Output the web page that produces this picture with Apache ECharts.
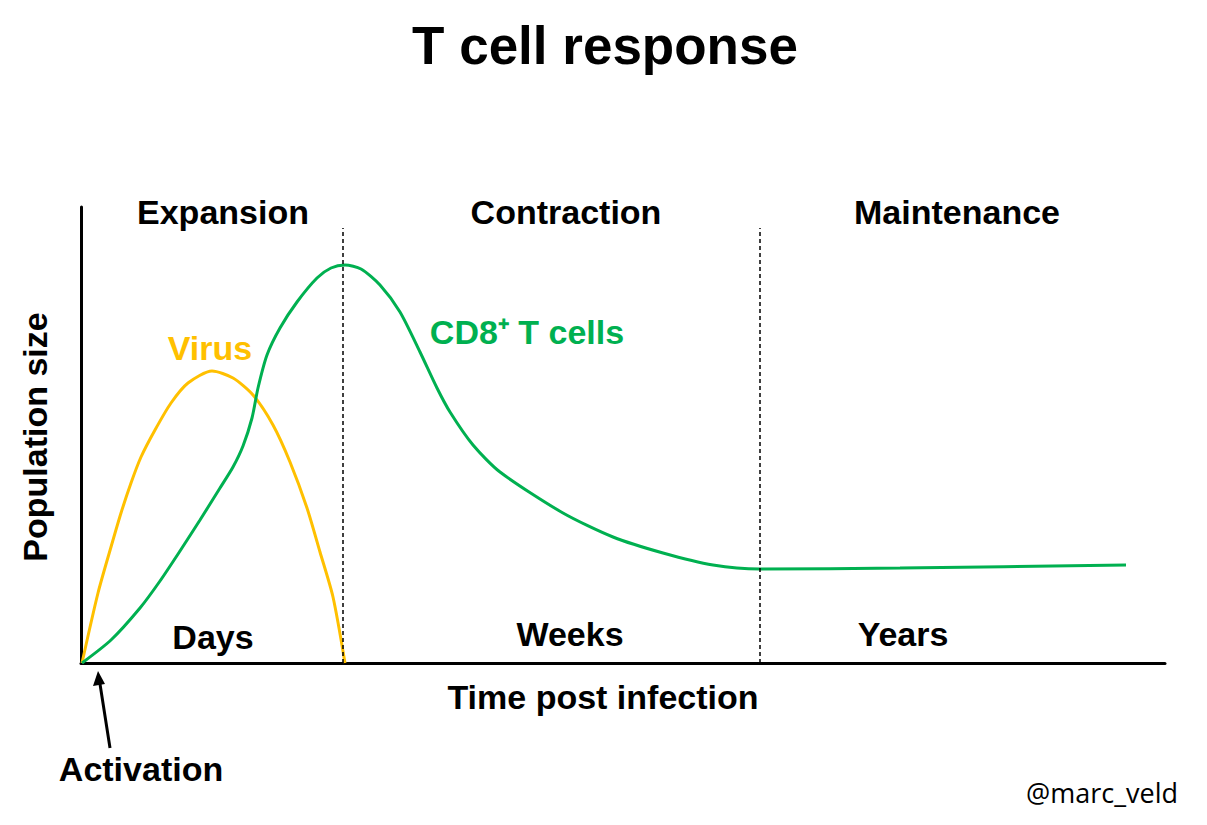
<!DOCTYPE html>
<html>
<head>
<meta charset="utf-8">
<script src="https://cdn.jsdelivr.net/npm/echarts@6/dist/echarts.min.js"></script>
<style>
html,body{margin:0;padding:0;background:#fff;}
#chart{width:1207px;height:825px;}
</style>
</head>
<body>
<div id="chart"></div>
<script>
// Data (arbitrary time units on x, population size on y)
const virus = [[1,0],[17,70],[30,116],[40,150],[50,180],[60,206],[74,233],[90,260],[107,280],[131,292],[152,285],[172,268],[192,238],[209,201],[226,155],[239,111],[252,66],[264,0]];
const cd8 = [[1,0],[30,23],[59,55],[79,82],[99,112],[119,143],[139,175],[152,196],[162,217],[171,245],[177,275],[186,308],[199,335],[216,361],[236,385],[250,395],[264,398],[280,394],[299,378],[319,351],[339,311],[356,275],[369,251],[392,218],[419,191],[482,150],[532,126],[582,110],[632,98],[679,94],[819,95],[1045,98]];
const phaseBoundaries = [262, 679];
const phaseNames = ['Expansion', 'Contraction', 'Maintenance'];
const timescales = ['Days', 'Weeks', 'Years'];

const chart = echarts.init(document.getElementById('chart'), null, {renderer: 'svg'});
const FONT = '"Liberation Sans", Arial, sans-serif';
function txt(x, y, text, size, color, extra) {
  return Object.assign({
    type: 'text', x: x, y: y,
    style: {text: text, font: 'bold ' + size + 'px ' + FONT, fill: color || '#000', textAlign: 'center', textVerticalAlign: 'middle'}
  }, extra || {});
}
const option = {
  animation: false,
  backgroundColor: '#fff',
  grid: {left: 81, top: 207, width: 1084, height: 456},
  xAxis: {type: 'value', min: 0, max: 1084,
    axisLine: {show: true, lineStyle: {color: '#000', width: 3}},
    axisTick: {show: false}, axisLabel: {show: false}, splitLine: {show: false}},
  yAxis: {type: 'value', min: 0, max: 456,
    axisLine: {show: true, lineStyle: {color: '#000', width: 3}},
    axisTick: {show: false}, axisLabel: {show: false}, splitLine: {show: false}},
  series: [
    {name: 'Virus', type: 'line', data: virus, smooth: 0.25, showSymbol: false,
      lineStyle: {color: '#FFC000', width: 3}, z: 3},
    {name: 'CD8+ T cells', type: 'line', data: cd8, smooth: 0.25, showSymbol: false,
      lineStyle: {color: '#00B050', width: 3}, z: 4,
      markLine: {silent: true, symbol: 'none', label: {show: false},
        lineStyle: {color: '#000', type: [4, 3], width: 1.5},
        data: phaseBoundaries.map(x => [{coord: [x, 0]}, {coord: [x, 435]}])}}
  ],
  graphic: [
    txt(605, 45, 'T cell response', 53),
    txt(223, 212, phaseNames[0], 34),
    txt(566, 212, phaseNames[1], 34),
    txt(957, 212, phaseNames[2], 34),
    txt(210, 348, 'Virus', 34, '#FFC000'),
    txt(527, 332, 'CD8\u207A T cells', 34, '#00B050'),
    txt(213, 637, timescales[0], 34),
    txt(570, 634, timescales[1], 34),
    txt(903, 634, timescales[2], 34),
    txt(603, 697, 'Time post infection', 34),
    txt(35, 437, 'Population size', 34, '#000', {rotation: Math.PI / 2}),
    txt(141, 769, 'Activation', 34),
    {type: 'text', x: 1102, y: 792, style: {text: '@marc_veld', font: '27px "Open Sans", sans-serif', fill: '#000', textAlign: 'center', textVerticalAlign: 'middle'}},
    {type: 'line', shape: {x1: 110, y1: 748, x2: 100, y2: 684}, style: {stroke: '#000', lineWidth: 3}},
    {type: 'polygon', shape: {points: [[98, 671], [93, 686], [105, 684]]}, style: {fill: '#000'}}
  ]
};
chart.setOption(option);
</script>
</body>
</html>
